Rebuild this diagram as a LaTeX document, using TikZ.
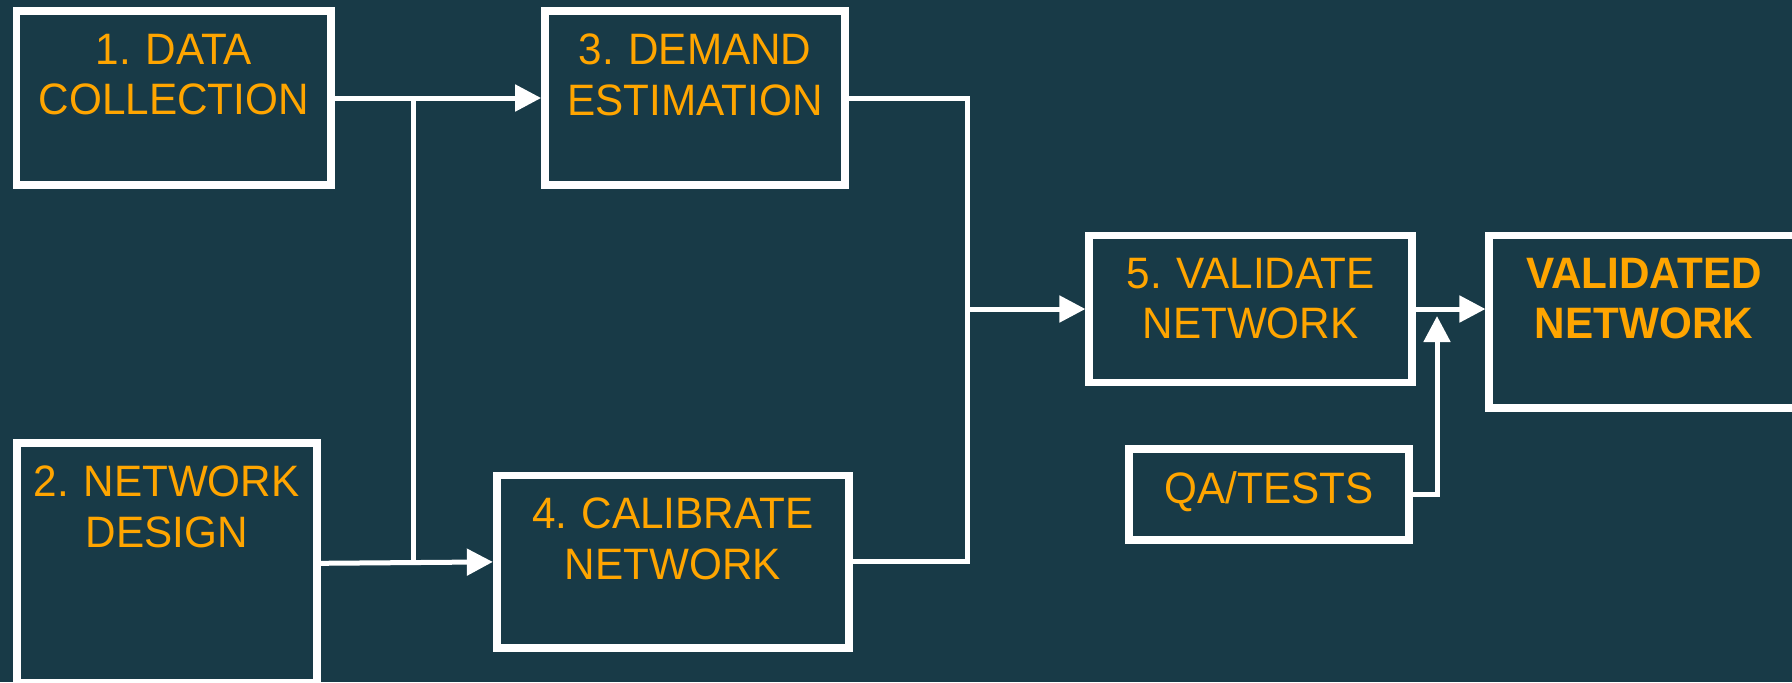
\documentclass[tikz,border=0pt]{standalone}
\usepackage{fontspec}
\setmainfont[FakeStretch=0.96,WordSpace=0.9]{Liberation Sans}
\usetikzlibrary{arrows.meta}
\definecolor{panel}{RGB}{24,58,71}
\definecolor{amber}{RGB}{255,165,0}
\begin{document}
\begin{tikzpicture}[x=0.5pt,y=-0.5pt,
  stage/.style={draw=white, line width=3.85pt, inner sep=0pt},
  caption/.style={text=amber, font=\fontsize{22}{25.3}\selectfont, align=center, inner sep=0pt, anchor=north},
  link/.style={draw=white, line width=2.5pt},
  flow/.style={link, -{Triangle[length=13pt,width=13pt]}}
]
% background panel
\fill[panel] (0,0) rectangle (1792,682);
\useasboundingbox (0,0) rectangle (1792,682);

% process boxes
\node[stage, minimum width=157.3pt, minimum height=86.75pt] (b1) at (173.9,98) {};
\node[stage, minimum width=150.1pt, minimum height=86.75pt] (b3) at (695.1,98) {};
\node[stage, minimum width=150pt,   minimum height=120pt]   (b2) at (166.7,563.3) {};
\node[stage, minimum width=176.05pt,minimum height=86.4pt]  (b4) at (672.75,561.9) {};
\node[stage, minimum width=161.25pt,minimum height=73.5pt]  (b5) at (1250.5,309) {};
\node[stage, minimum width=139.8pt, minimum height=45.5pt]  (qa) at (1269,494.5) {};
\node[stage, minimum width=154.7pt, minimum height=86.25pt] (vn) at (1644,321.75) {};

% box captions, set near the top edge
\node[caption] (t1) at ([yshift=-13pt]b1.north) {1. DATA\\COLLECTION};
\node[caption] (t3) at ([yshift=-13pt]b3.north) {3. DEMAND\\ESTIMATION};
\node[caption] (t2) at ([yshift=-13pt]b2.north) {2. NETWORK\\DESIGN};
\node[caption] (t4) at ([yshift=-13pt]b4.north) {4. CALIBRATE\\NETWORK};
\node[caption] (t5) at ([yshift=-13pt]b5.north) {5. VALIDATE\\NETWORK};
\node[caption] (tq) at ([yshift=-13pt]qa.north) {QA/TESTS};
\node[caption, font=\fontsize{22}{25.3}\selectfont\bfseries] (tv) at ([yshift=-13pt]vn.north) {VALIDATED\\NETWORK};

% junction points of the connectors
\coordinate (split) at (413.7,98);
\coordinate (merge) at (967.5,309);
\coordinate (qtip)  at (1437,316);

% connectors
\draw[flow] (b1.east) -- (b3.west);
\draw[link] (split) -- (split |- b4.west);
\draw[flow] (b2.east) -- (b4.west);
\draw[flow] (b3.east) -| (merge) -- (b5.west);
\draw[link] (b4.east) -| (merge);
\draw[flow] (b5.east) -- (b5.east -| vn.west);
\draw[flow] (qa.east) -| (qtip);
\end{tikzpicture}
\end{document}
